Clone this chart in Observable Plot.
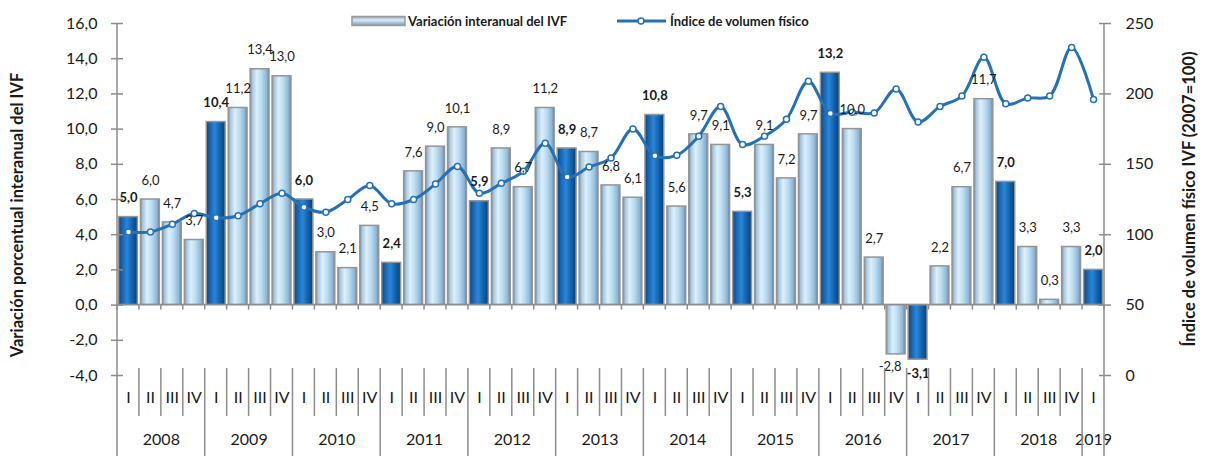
<!DOCTYPE html>
<html>
<head>
<meta charset="utf-8">
<script src="https://cdn.jsdelivr.net/npm/d3@7"></script>
<script src="https://cdn.jsdelivr.net/npm/@observablehq/plot@0.6"></script>
<style>
  html, body { margin: 0; padding: 0; background: #fff; }
  #chart { position: relative; width: 1205px; height: 456px; }
  #chart svg { font-family: Lato, "Open Sans", sans-serif; }
  #chart svg [aria-label="y-axis tick"] { stroke: #8c8c8c; stroke-width: 1.5; }
</style>
</head>
<body>
<div id="chart"></div>
<script>
// ---- data ----
const years = [2008, 2009, 2010, 2011, 2012, 2013, 2014, 2015, 2016, 2017, 2018, 2019];
const quarters = ["I", "II", "III", "IV"];
// Variación interanual del IVF (%)
const variacion = [5.0, 6.0, 4.7, 3.7, 10.4, 11.2, 13.4, 13.0, 6.0, 3.0, 2.1, 4.5,
  2.4, 7.6, 9.0, 10.1, 5.9, 8.9, 6.7, 11.2, 8.9, 8.7, 6.8, 6.1,
  10.8, 5.6, 9.7, 9.1, 5.3, 9.1, 7.2, 9.7, 13.2, 10.0, 2.7, -2.8,
  -3.1, 2.2, 6.7, 11.7, 7.0, 3.3, 0.3, 3.3, 2.0];
// Índice de volumen físico (2007=100)
const indice = [102, 102, 107.5, 115, 112, 113.5, 122, 129.5, 119.5, 116, 125, 135,
  122, 125, 136, 148.5, 129.5, 136.5, 145, 165, 141, 148, 154.5, 175,
  156, 156.5, 170, 191, 164, 170, 182, 209, 186, 187, 186.5, 203.5,
  180, 191, 198.5, 226, 193, 197, 198.5, 233, 196];
const leftTicks = [-4, -2, 0, 2, 4, 6, 8, 10, 12, 14, 16];
const rightTicks = [0, 50, 100, 150, 200, 250];
const leftTitle = "Variación porcentual interanual del IVF";
const rightTitle = "Índice de volumen físico IVF (2007=100)";
const legendBar = "Variación interanual del IVF";
const legendLine = "Índice de volumen físico";

// ---- table ----
const data = variacion.map((v, i) => ({
  period: `${years[Math.floor(i / 4)]}-${quarters[i % 4]}`,
  year: years[Math.floor(i / 4)],
  q: quarters[i % 4],
  v,
  ivf: indice[i]
}));
const periods = data.map(d => d.period);

// right axis (0..250) mapped onto left axis (-4..16)
const toLeft = r => r / 12.5 - 4;
const fmt = v => v.toFixed(1).replace(".", ",");

const W = 1205, H = 456, ML = 117, MR = 101, MT = 23, MB = 81;
const step = (W - ML - MR) / periods.length;
const blue = "#2471b5";
const txt = "#1a1a1a";

const chart = Plot.plot({
  width: W, height: H,
  marginLeft: ML, marginRight: MR, marginTop: MT, marginBottom: MB,
  style: { fontFamily: "Lato, sans-serif", fontSize: "13px", color: txt, background: "white", overflow: "visible" },
  x: { domain: periods, paddingInner: 0.14, paddingOuter: 0.07, axis: null },
  y: { domain: [-4, 16], axis: null },
  marks: [
    Plot.barY(data.filter(d => d.q !== "I"), { x: "period", y: "v", fill: "url(#gLight)", stroke: "#959595", strokeWidth: 1.5 }),
    Plot.barY(data.filter(d => d.q === "I"), { x: "period", y: "v", fill: "url(#gDark)", stroke: "#959595", strokeWidth: 1.5 }),
    Plot.line(data, { x: "period", y: d => toLeft(d.ivf), stroke: blue, strokeWidth: 3, curve: "catmull-rom" }),
    Plot.dot(data, { x: "period", y: d => toLeft(d.ivf), r: 3, fill: "white", stroke: blue, strokeWidth: 1.5 }),
    // data labels
    Plot.text(data.filter(d => d.v >= 0 && d.q !== "I"), { x: "period", y: "v", text: d => fmt(d.v), dy: -19, fontSize: 13, fill: txt }),
    Plot.text(data.filter(d => d.v >= 0 && d.q === "I"), { x: "period", y: "v", text: d => fmt(d.v), dy: -19, fontSize: 13, fontWeight: "bold", fill: txt }),
    Plot.text(data.filter(d => d.v < 0 && d.q !== "I"), { x: "period", y: "v", text: d => fmt(d.v), dy: 12, dx: -6, fontSize: 13, fill: txt }),
    Plot.text(data.filter(d => d.v < 0 && d.q === "I"), { x: "period", y: "v", text: d => fmt(d.v), dy: 14, fontSize: 13, fontWeight: "bold", fill: txt }),
    // left axis
    Plot.axisY(leftTicks, { anchor: "left", label: null, tickSize: 12, dx: 6, tickPadding: 14, tickFormat: fmt, fontSize: 16 }),
    // right axis
    Plot.axisY(rightTicks.map(toLeft), { anchor: "right", label: null, tickSize: 12, dx: -6, tickPadding: 15, tickFormat: t => String(Math.round((t + 4) * 12.5)), fontSize: 16 }),
    // quarter labels
    Plot.text(data, { x: "period", text: "q", frameAnchor: "bottom", dy: 27, fontSize: 16, fill: txt }),
    // year labels
    Plot.text(data.filter(d => d.q === "II"), { x: "period", text: d => String(d.year), frameAnchor: "bottom", dy: 69, dx: step / 2, fontSize: 16, fill: txt }),
    Plot.text(data.filter(d => d.year === 2019), { x: "period", text: d => String(d.year), frameAnchor: "bottom", dy: 69, fontSize: 16, fill: txt })
  ]
});

document.getElementById("chart").appendChild(chart);

// ---- decorations (gradients, category axis structure, titles, legend) ----
const svg = d3.select(chart);
const defs = svg.insert("defs", ":first-child");
const grad = (id, stops, vertical) => {
  const g = defs.append("linearGradient").attr("id", id)
    .attr("x1", 0).attr("x2", vertical ? 0 : 1).attr("y1", 0).attr("y2", vertical ? 1 : 0);
  stops.forEach(([o, c]) => g.append("stop").attr("offset", o).attr("stop-color", c));
};
grad("gLight", [[0, "#7b8d9c"], [0.12, "#a6c7e0"], [0.35, "#dcf0fb"], [0.6, "#b9dcf2"], [0.88, "#8db4d4"], [1, "#6c7f90"]]);
grad("gDark", [[0, "#0b4680"], [0.2, "#1766b3"], [0.45, "#2a86d8"], [0.7, "#1565b0"], [1, "#0a3f74"]]);
grad("gLightH", [[0, "#8aa4b8"], [0.4, "#d6eefa"], [1, "#7e98ab"]], true);

const xs = chart.scale("x"), ys = chart.scale("y");
const cellLeft = p => xs.apply(p) + xs.bandwidth / 2 - xs.step / 2;
const x0 = cellLeft(periods[0]);
const x1 = x0 + xs.step * periods.length;
const y0 = ys.apply(0);
const yTop = ys.apply(16), yBot = ys.apply(-4);
const g = svg.append("g").attr("stroke", "#8c8c8c").attr("stroke-width", 1.5).attr("fill", "none");
const line = (xa, ya, xb, yb) => g.append("line").attr("x1", xa).attr("y1", ya).attr("x2", xb).attr("y2", yb);
line(x0, y0, x1, y0);
for (let i = 0; i <= periods.length; i++) {
  const x = x0 + i * xs.step;
  line(x, y0, x, y0 + 5);
  if (i === 0 || i === periods.length) line(x, yTop, x, H);
  else if (i % 4 === 0) line(x, yBot - 7, x, H);
  else line(x, yBot - 7, x, yBot + 41);
}

// axis titles
const tg = svg.append("g").attr("fill", txt).attr("font-weight", "bold").attr("font-size", 16.5).attr("text-anchor", "middle");
tg.append("text").attr("transform", `translate(17,215) rotate(-90)`).attr("dy", "0.35em").text(leftTitle);
tg.append("text").attr("transform", `translate(1189,199) rotate(-90)`).attr("dy", "0.35em").text(rightTitle);

// legend
const lg = svg.append("g").attr("font-size", 13).attr("font-weight", "bold").attr("fill", txt).attr("text-anchor", "start");
lg.append("rect").attr("x", 352).attr("y", 16.5).attr("width", 53).attr("height", 9)
  .attr("fill", "url(#gLightH)").attr("stroke", "#9a9a9a").attr("stroke-width", 1.5);
lg.append("text").attr("x", 408).attr("y", 21).attr("dy", "0.35em").text(legendBar);
lg.append("line").attr("x1", 617).attr("x2", 666).attr("y1", 21).attr("y2", 21).attr("stroke", blue).attr("stroke-width", 3);
lg.append("circle").attr("cx", 641).attr("cy", 21).attr("r", 3).attr("fill", "white").attr("stroke", blue).attr("stroke-width", 1.5);
lg.append("text").attr("x", 670).attr("y", 21).attr("dy", "0.35em").text(legendLine);
</script>
</body>
</html>
